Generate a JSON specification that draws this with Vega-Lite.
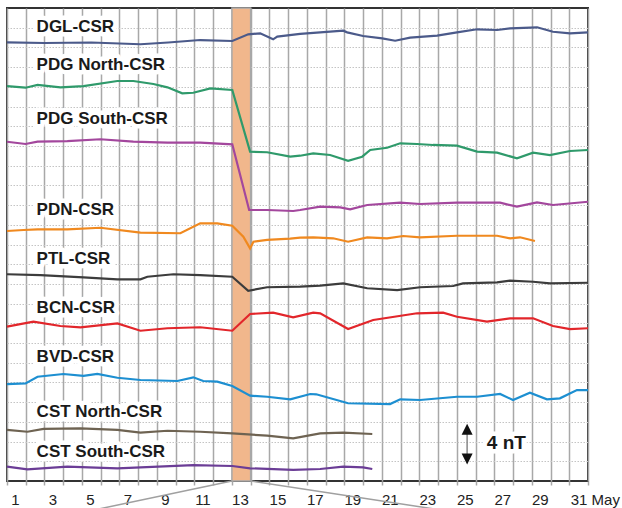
{
  "$schema": "https://vega.github.io/schema/vega-lite/v6.json",
  "width": 581,
  "height": 473,
  "autosize": {"type": "none"},
  "padding": {"left": 7, "top": 8, "right": 34, "bottom": 27},
  "background": "white",
  "config": {
    "view": {"stroke": "#333333", "strokeWidth": 2},
    "font": "Liberation Sans"
  },
  "datasets": {
    "series": [
      {"s": "DGL-CSR", "d": 0, "v": 44.52}, {"s": "DGL-CSR", "d": 2.0, "v": 44.45}, {"s": "DGL-CSR", "d": 4.5, "v": 44.5}, {"s": "DGL-CSR", "d": 7.12, "v": 44.32}, {"s": "DGL-CSR", "d": 8.6, "v": 44.5}, {"s": "DGL-CSR", "d": 10.31, "v": 44.75}, {"s": "DGL-CSR", "d": 12.02, "v": 44.65}, {"s": "DGL-CSR", "d": 12.87, "v": 45.33}, {"s": "DGL-CSR", "d": 13.51, "v": 45.43}, {"s": "DGL-CSR", "d": 14.2, "v": 44.82}, {"s": "DGL-CSR", "d": 14.42, "v": 45.09}, {"s": "DGL-CSR", "d": 15.64, "v": 45.38}, {"s": "DGL-CSR", "d": 16.71, "v": 45.53}, {"s": "DGL-CSR", "d": 17.94, "v": 45.7}, {"s": "DGL-CSR", "d": 18.15, "v": 45.53}, {"s": "DGL-CSR", "d": 19.0, "v": 45.16}, {"s": "DGL-CSR", "d": 20.02, "v": 44.92}, {"s": "DGL-CSR", "d": 20.71, "v": 44.68}, {"s": "DGL-CSR", "d": 21.51, "v": 44.99}, {"s": "DGL-CSR", "d": 22.95, "v": 45.19}, {"s": "DGL-CSR", "d": 24.01, "v": 45.53}, {"s": "DGL-CSR", "d": 25.08, "v": 45.84}, {"s": "DGL-CSR", "d": 26.15, "v": 45.77}, {"s": "DGL-CSR", "d": 26.84, "v": 45.94}, {"s": "DGL-CSR", "d": 28.28, "v": 46.04}, {"s": "DGL-CSR", "d": 29.13, "v": 45.59}, {"s": "DGL-CSR", "d": 30.04, "v": 45.43}, {"s": "DGL-CSR", "d": 31, "v": 45.53},
      {"s": "PDG North-CSR", "d": 0, "v": 40.08}, {"s": "PDG North-CSR", "d": 0.99, "v": 39.91}, {"s": "PDG North-CSR", "d": 1.63, "v": 40.19}, {"s": "PDG North-CSR", "d": 2.85, "v": 39.95}, {"s": "PDG North-CSR", "d": 4.08, "v": 40.08}, {"s": "PDG North-CSR", "d": 5.89, "v": 40.59}, {"s": "PDG North-CSR", "d": 6.74, "v": 40.59}, {"s": "PDG North-CSR", "d": 7.81, "v": 40.29}, {"s": "PDG North-CSR", "d": 8.56, "v": 39.95}, {"s": "PDG North-CSR", "d": 9.35, "v": 39.34}, {"s": "PDG North-CSR", "d": 9.94, "v": 39.4}, {"s": "PDG North-CSR", "d": 10.85, "v": 39.85}, {"s": "PDG North-CSR", "d": 12.02, "v": 39.68}, {"s": "PDG North-CSR", "d": 12.97, "v": 33.42}, {"s": "PDG North-CSR", "d": 13.88, "v": 33.36}, {"s": "PDG North-CSR", "d": 15.11, "v": 32.91}, {"s": "PDG North-CSR", "d": 15.64, "v": 33.01}, {"s": "PDG North-CSR", "d": 16.34, "v": 33.25}, {"s": "PDG North-CSR", "d": 17.24, "v": 33.08}, {"s": "PDG North-CSR", "d": 18.2, "v": 32.5}, {"s": "PDG North-CSR", "d": 18.95, "v": 32.91}, {"s": "PDG North-CSR", "d": 19.38, "v": 33.59}, {"s": "PDG North-CSR", "d": 20.28, "v": 33.82}, {"s": "PDG North-CSR", "d": 20.98, "v": 34.27}, {"s": "PDG North-CSR", "d": 21.88, "v": 34.2}, {"s": "PDG North-CSR", "d": 22.73, "v": 34.1}, {"s": "PDG North-CSR", "d": 24.01, "v": 34.03}, {"s": "PDG North-CSR", "d": 25.08, "v": 33.42}, {"s": "PDG North-CSR", "d": 26.15, "v": 33.32}, {"s": "PDG North-CSR", "d": 27.21, "v": 32.75}, {"s": "PDG North-CSR", "d": 28.07, "v": 33.32}, {"s": "PDG North-CSR", "d": 28.97, "v": 33.08}, {"s": "PDG North-CSR", "d": 30.04, "v": 33.49}, {"s": "PDG North-CSR", "d": 31, "v": 33.59},
      {"s": "PDG South-CSR", "d": 0, "v": 34.43}, {"s": "PDG South-CSR", "d": 0.99, "v": 34.2}, {"s": "PDG South-CSR", "d": 1.63, "v": 34.43}, {"s": "PDG South-CSR", "d": 3.22, "v": 34.5}, {"s": "PDG South-CSR", "d": 4.98, "v": 34.68}, {"s": "PDG South-CSR", "d": 6.74, "v": 34.43}, {"s": "PDG South-CSR", "d": 8.56, "v": 34.33}, {"s": "PDG South-CSR", "d": 10.31, "v": 34.33}, {"s": "PDG South-CSR", "d": 12.02, "v": 34.17}, {"s": "PDG South-CSR", "d": 12.92, "v": 27.5}, {"s": "PDG South-CSR", "d": 13.88, "v": 27.5}, {"s": "PDG South-CSR", "d": 15.27, "v": 27.4}, {"s": "PDG South-CSR", "d": 15.64, "v": 27.5}, {"s": "PDG South-CSR", "d": 16.71, "v": 27.84}, {"s": "PDG South-CSR", "d": 17.78, "v": 27.77}, {"s": "PDG South-CSR", "d": 18.31, "v": 27.57}, {"s": "PDG South-CSR", "d": 19.22, "v": 28.01}, {"s": "PDG South-CSR", "d": 20.98, "v": 28.24}, {"s": "PDG South-CSR", "d": 22.04, "v": 28.11}, {"s": "PDG South-CSR", "d": 24.01, "v": 28.24}, {"s": "PDG South-CSR", "d": 26.31, "v": 28.24}, {"s": "PDG South-CSR", "d": 27.21, "v": 27.84}, {"s": "PDG South-CSR", "d": 28.28, "v": 28.28}, {"s": "PDG South-CSR", "d": 29.13, "v": 28.01}, {"s": "PDG South-CSR", "d": 31, "v": 28.34},
      {"s": "PDN-CSR", "d": 0, "v": 25.37}, {"s": "PDN-CSR", "d": 0.88, "v": 25.47}, {"s": "PDN-CSR", "d": 1.63, "v": 25.54}, {"s": "PDN-CSR", "d": 3.22, "v": 25.54}, {"s": "PDN-CSR", "d": 4.98, "v": 25.7}, {"s": "PDN-CSR", "d": 7.12, "v": 25.2}, {"s": "PDN-CSR", "d": 9.25, "v": 25.14}, {"s": "PDN-CSR", "d": 10.31, "v": 26.15}, {"s": "PDN-CSR", "d": 11.22, "v": 26.15}, {"s": "PDN-CSR", "d": 12.02, "v": 25.91}, {"s": "PDN-CSR", "d": 12.61, "v": 24.79}, {"s": "PDN-CSR", "d": 12.97, "v": 23.61}, {"s": "PDN-CSR", "d": 13.15, "v": 24.28}, {"s": "PDN-CSR", "d": 13.88, "v": 24.46}, {"s": "PDN-CSR", "d": 15.11, "v": 24.6}, {"s": "PDN-CSR", "d": 15.64, "v": 24.7}, {"s": "PDN-CSR", "d": 16.34, "v": 24.73}, {"s": "PDN-CSR", "d": 17.4, "v": 24.63}, {"s": "PDN-CSR", "d": 18.2, "v": 24.28}, {"s": "PDN-CSR", "d": 19.22, "v": 24.73}, {"s": "PDN-CSR", "d": 20.28, "v": 24.63}, {"s": "PDN-CSR", "d": 21.14, "v": 24.86}, {"s": "PDN-CSR", "d": 22.04, "v": 24.73}, {"s": "PDN-CSR", "d": 24.01, "v": 24.89}, {"s": "PDN-CSR", "d": 26.15, "v": 24.89}, {"s": "PDN-CSR", "d": 26.84, "v": 24.63}, {"s": "PDN-CSR", "d": 27.37, "v": 24.73}, {"s": "PDN-CSR", "d": 28.17, "v": 24.36},
      {"s": "PTL-CSR", "d": 0, "v": 20.98}, {"s": "PTL-CSR", "d": 1.79, "v": 20.9}, {"s": "PTL-CSR", "d": 4.08, "v": 20.67}, {"s": "PTL-CSR", "d": 5.89, "v": 20.47}, {"s": "PTL-CSR", "d": 7.12, "v": 20.47}, {"s": "PTL-CSR", "d": 7.49, "v": 20.73}, {"s": "PTL-CSR", "d": 8.88, "v": 20.98}, {"s": "PTL-CSR", "d": 10.31, "v": 20.9}, {"s": "PTL-CSR", "d": 12.02, "v": 20.73}, {"s": "PTL-CSR", "d": 12.87, "v": 19.31}, {"s": "PTL-CSR", "d": 13.88, "v": 19.66}, {"s": "PTL-CSR", "d": 15.64, "v": 19.72}, {"s": "PTL-CSR", "d": 16.71, "v": 19.82}, {"s": "PTL-CSR", "d": 17.94, "v": 20.06}, {"s": "PTL-CSR", "d": 19.22, "v": 19.56}, {"s": "PTL-CSR", "d": 20.82, "v": 19.38}, {"s": "PTL-CSR", "d": 22.04, "v": 19.66}, {"s": "PTL-CSR", "d": 23.8, "v": 19.79}, {"s": "PTL-CSR", "d": 24.33, "v": 20.06}, {"s": "PTL-CSR", "d": 26.15, "v": 20.16}, {"s": "PTL-CSR", "d": 26.84, "v": 20.33}, {"s": "PTL-CSR", "d": 28.07, "v": 20.22}, {"s": "PTL-CSR", "d": 28.97, "v": 20.06}, {"s": "PTL-CSR", "d": 31, "v": 20.12},
      {"s": "BCN-CSR", "d": 0, "v": 15.66}, {"s": "BCN-CSR", "d": 1.41, "v": 16.17}, {"s": "BCN-CSR", "d": 2.85, "v": 15.73}, {"s": "BCN-CSR", "d": 3.92, "v": 15.6}, {"s": "BCN-CSR", "d": 5.89, "v": 16.0}, {"s": "BCN-CSR", "d": 7.12, "v": 15.25}, {"s": "BCN-CSR", "d": 8.56, "v": 15.5}, {"s": "BCN-CSR", "d": 10.31, "v": 15.6}, {"s": "BCN-CSR", "d": 12.02, "v": 15.25}, {"s": "BCN-CSR", "d": 12.97, "v": 16.95}, {"s": "BCN-CSR", "d": 14.2, "v": 17.08}, {"s": "BCN-CSR", "d": 15.27, "v": 16.61}, {"s": "BCN-CSR", "d": 16.34, "v": 17.08}, {"s": "BCN-CSR", "d": 16.71, "v": 17.02}, {"s": "BCN-CSR", "d": 18.2, "v": 15.42}, {"s": "BCN-CSR", "d": 19.54, "v": 16.34}, {"s": "BCN-CSR", "d": 21.88, "v": 17.02}, {"s": "BCN-CSR", "d": 23.27, "v": 17.08}, {"s": "BCN-CSR", "d": 24.01, "v": 16.67}, {"s": "BCN-CSR", "d": 25.61, "v": 16.17}, {"s": "BCN-CSR", "d": 26.84, "v": 16.51}, {"s": "BCN-CSR", "d": 28.07, "v": 16.51}, {"s": "BCN-CSR", "d": 29.13, "v": 15.73}, {"s": "BCN-CSR", "d": 30.04, "v": 15.42}, {"s": "BCN-CSR", "d": 31, "v": 15.5},
      {"s": "BVD-CSR", "d": 0, "v": 9.84}, {"s": "BVD-CSR", "d": 0.99, "v": 9.91}, {"s": "BVD-CSR", "d": 1.63, "v": 10.58}, {"s": "BVD-CSR", "d": 3.01, "v": 10.86}, {"s": "BVD-CSR", "d": 4.08, "v": 10.66}, {"s": "BVD-CSR", "d": 4.82, "v": 10.86}, {"s": "BVD-CSR", "d": 5.89, "v": 10.48}, {"s": "BVD-CSR", "d": 7.12, "v": 10.25}, {"s": "BVD-CSR", "d": 9.09, "v": 10.15}, {"s": "BVD-CSR", "d": 9.94, "v": 10.52}, {"s": "BVD-CSR", "d": 10.47, "v": 10.15}, {"s": "BVD-CSR", "d": 11.22, "v": 10.08}, {"s": "BVD-CSR", "d": 12.02, "v": 9.64}, {"s": "BVD-CSR", "d": 12.97, "v": 8.66}, {"s": "BVD-CSR", "d": 13.88, "v": 8.55}, {"s": "BVD-CSR", "d": 15.11, "v": 8.29}, {"s": "BVD-CSR", "d": 16.18, "v": 8.83}, {"s": "BVD-CSR", "d": 16.5, "v": 8.8}, {"s": "BVD-CSR", "d": 18.2, "v": 7.89}, {"s": "BVD-CSR", "d": 20.44, "v": 7.81}, {"s": "BVD-CSR", "d": 20.98, "v": 8.29}, {"s": "BVD-CSR", "d": 22.04, "v": 8.22}, {"s": "BVD-CSR", "d": 24.01, "v": 8.55}, {"s": "BVD-CSR", "d": 25.08, "v": 8.55}, {"s": "BVD-CSR", "d": 26.31, "v": 8.83}, {"s": "BVD-CSR", "d": 27.0, "v": 8.22}, {"s": "BVD-CSR", "d": 27.9, "v": 8.96}, {"s": "BVD-CSR", "d": 28.81, "v": 8.29}, {"s": "BVD-CSR", "d": 29.5, "v": 8.39}, {"s": "BVD-CSR", "d": 30.41, "v": 9.23}, {"s": "BVD-CSR", "d": 31, "v": 9.23},
      {"s": "CST North-CSR", "d": 0, "v": 5.18}, {"s": "CST North-CSR", "d": 1.09, "v": 5.0}, {"s": "CST North-CSR", "d": 1.95, "v": 5.28}, {"s": "CST North-CSR", "d": 3.92, "v": 5.35}, {"s": "CST North-CSR", "d": 5.89, "v": 5.18}, {"s": "CST North-CSR", "d": 7.12, "v": 4.9}, {"s": "CST North-CSR", "d": 8.56, "v": 5.1}, {"s": "CST North-CSR", "d": 10.31, "v": 5.0}, {"s": "CST North-CSR", "d": 12.02, "v": 4.84}, {"s": "CST North-CSR", "d": 13.88, "v": 4.6}, {"s": "CST North-CSR", "d": 15.27, "v": 4.33}, {"s": "CST North-CSR", "d": 16.71, "v": 4.84}, {"s": "CST North-CSR", "d": 17.94, "v": 4.9}, {"s": "CST North-CSR", "d": 19.49, "v": 4.77},
      {"s": "CST South-CSR", "d": 0, "v": 1.45}, {"s": "CST South-CSR", "d": 1.09, "v": 1.19}, {"s": "CST South-CSR", "d": 3.22, "v": 1.45}, {"s": "CST South-CSR", "d": 5.89, "v": 1.29}, {"s": "CST South-CSR", "d": 9.94, "v": 1.62}, {"s": "CST South-CSR", "d": 12.02, "v": 1.52}, {"s": "CST South-CSR", "d": 12.97, "v": 1.29}, {"s": "CST South-CSR", "d": 15.27, "v": 1.12}, {"s": "CST South-CSR", "d": 16.71, "v": 1.22}, {"s": "CST South-CSR", "d": 17.94, "v": 1.45}, {"s": "CST South-CSR", "d": 19.0, "v": 1.39}, {"s": "CST South-CSR", "d": 19.49, "v": 1.22}
    ],
    "labels": [
      {"label": "DGL-CSR", "d": 1.58, "v": 45.56},
      {"label": "PDG North-CSR", "d": 1.58, "v": 41.71},
      {"label": "PDG South-CSR", "d": 1.58, "v": 36.23},
      {"label": "PDN-CSR", "d": 1.58, "v": 26.99},
      {"label": "PTL-CSR", "d": 1.58, "v": 22.02},
      {"label": "BCN-CSR", "d": 1.58, "v": 17.02},
      {"label": "BVD-CSR", "d": 1.58, "v": 12.05},
      {"label": "CST North-CSR", "d": 1.58, "v": 6.46},
      {"label": "CST South-CSR", "d": 1.58, "v": 2.41}
    ],
    "scalebar": [
      {"label": "4 nT", "d": 25.6, "v": 3.22}
    ],
    "arrow": [
      {"d": 24.55, "lo": 2.23, "hi": 5.26}
    ],
    "zoomlines": [
      {"g": "left", "d": 12, "v": 0}, {"g": "left", "d": 2.87, "v": -3.65},
      {"g": "right", "d": 13, "v": 0}, {"g": "right", "d": 25.6, "v": -3.65}
    ],
    "band": [
      {"start": 12, "end": 13}
    ]
  },
  "encoding": {
    "x": {
      "type": "quantitative",
      "scale": {"domain": [0, 31], "nice": false, "zero": false},
      "axis": {
        "title": null,
        "values": [0,1,2,3,4,5,6,7,8,9,10,11,12,13,14,15,16,17,18,19,20,21,22,23,24,25,26,27,28,29,30,31],
        "grid": true,
        "gridColor": "#a8a8a8",
        "gridWidth": 1.5,
        "ticks": true,
        "tickSize": 4,
        "tickColor": "#a8a8a8",
        "tickWidth": 1.5,
        "domain": false,
        "labelExpr": "(datum.value % 2 == 0 && datum.value < 31) ? (datum.value == 30 ? '31 May' : '' + (datum.value + 1)) : ''",
        "labelOffset": {"condition": {"test": "datum.value == 30", "value": 1}, "value": 8},
        "labelAlign": {"condition": {"test": "datum.value == 30", "value": "left"}, "value": "center"},
        "labelFont": "Liberation Sans",
        "labelFontSize": 15,
        "labelColor": "#222222",
        "labelPadding": 7,
        "labelOverlap": false,
        "labelFlush": false,
        "labelBound": false
      }
    },
    "y": {
      "type": "quantitative",
      "scale": {"domain": [0, 48], "nice": false, "zero": false},
      "axis": {
        "title": null,
        "values": [2,4,6,8,10,12,14,16,18,20,22,24,26,28,30,32,34,36,38,40,42,44,46],
        "grid": true,
        "gridColor": "#c4c4c4",
        "gridDash": [1.5, 1.5],
        "gridWidth": 1,
        "labels": false,
        "ticks": false,
        "domain": false
      }
    }
  },
  "layer": [
    {
      "data": {"name": "band"},
      "mark": {"type": "rect", "color": "#f1b78c", "stroke": "#a8a8a8", "strokeWidth": 1.5},
      "encoding": {
        "x": {"field": "start", "type": "quantitative"},
        "x2": {"field": "end"}
      }
    },
    {
      "data": {"name": "series"},
      "mark": {"type": "line", "strokeWidth": 2.2},
      "encoding": {
        "x": {"field": "d", "type": "quantitative"},
        "y": {"field": "v", "type": "quantitative"},
        "color": {
          "field": "s",
          "type": "nominal",
          "legend": null,
          "scale": {
            "domain": ["DGL-CSR", "PDG North-CSR", "PDG South-CSR", "PDN-CSR", "PTL-CSR", "BCN-CSR", "BVD-CSR", "CST North-CSR", "CST South-CSR"],
            "range": ["#4b5a8a", "#2f9a6b", "#a3479d", "#f0891f", "#3c3c3c", "#e2262b", "#1d8fd1", "#6e6352", "#6b3d96"]
          }
        }
      }
    },
    {
      "data": {"name": "zoomlines"},
      "mark": {"type": "line", "color": "#a0a0a0", "strokeWidth": 1.5, "clip": false},
      "encoding": {
        "x": {"field": "d", "type": "quantitative"},
        "y": {"field": "v", "type": "quantitative"},
        "detail": {"field": "g"}
      }
    },
    {
      "data": {"name": "arrow"},
      "mark": {"type": "rule", "color": "#888888", "strokeWidth": 1.5},
      "encoding": {
        "x": {"field": "d", "type": "quantitative"},
        "y": {"field": "lo", "type": "quantitative"},
        "y2": {"field": "hi"}
      }
    },
    {
      "data": {"name": "arrow"},
      "mark": {"type": "point", "shape": "M0,-1L1,1L-1,1Z", "size": 121, "filled": true, "color": "#111111", "opacity": 1},
      "encoding": {
        "x": {"field": "d", "type": "quantitative"},
        "y": {"field": "hi", "type": "quantitative"}
      }
    },
    {
      "data": {"name": "arrow"},
      "mark": {"type": "point", "shape": "M0,1L1,-1L-1,-1Z", "size": 121, "filled": true, "color": "#111111", "opacity": 1},
      "encoding": {
        "x": {"field": "d", "type": "quantitative"},
        "y": {"field": "lo", "type": "quantitative"}
      }
    },
    {
      "data": {"name": "labels"},
      "mark": {"type": "text", "align": "left", "baseline": "alphabetic", "font": "Liberation Sans", "fontWeight": "bold", "fontSize": 17, "stroke": "white", "strokeWidth": 9, "strokeJoin": "round", "fill": "white"},
      "encoding": {
        "x": {"field": "d", "type": "quantitative"},
        "y": {"field": "v", "type": "quantitative"},
        "text": {"field": "label"}
      }
    },
    {
      "data": {"name": "labels"},
      "mark": {"type": "text", "align": "left", "baseline": "alphabetic", "font": "Liberation Sans", "fontWeight": "bold", "fontSize": 17, "fill": "#1a1a1a"},
      "encoding": {
        "x": {"field": "d", "type": "quantitative"},
        "y": {"field": "v", "type": "quantitative"},
        "text": {"field": "label"}
      }
    },
    {
      "data": {"name": "scalebar"},
      "mark": {"type": "text", "align": "left", "baseline": "alphabetic", "font": "Liberation Sans", "fontWeight": "bold", "fontSize": 19, "stroke": "white", "strokeWidth": 9, "strokeJoin": "round", "fill": "white"},
      "encoding": {
        "x": {"field": "d", "type": "quantitative"},
        "y": {"field": "v", "type": "quantitative"},
        "text": {"field": "label"}
      }
    },
    {
      "data": {"name": "scalebar"},
      "mark": {"type": "text", "align": "left", "baseline": "alphabetic", "font": "Liberation Sans", "fontWeight": "bold", "fontSize": 19, "fill": "#1a1a1a"},
      "encoding": {
        "x": {"field": "d", "type": "quantitative"},
        "y": {"field": "v", "type": "quantitative"},
        "text": {"field": "label"}
      }
    }
  ]
}
